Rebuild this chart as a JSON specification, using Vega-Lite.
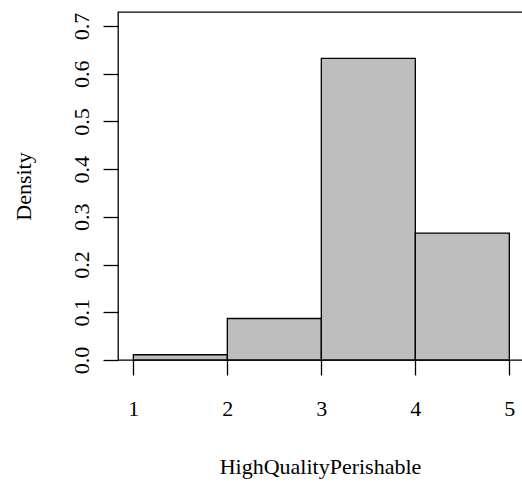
{
  "$schema": "https://vega.github.io/schema/vega-lite/v6.json",
  "autosize": {"type": "none"},
  "padding": {"left": 118, "top": 12, "right": -2, "bottom": 124},
  "width": 406,
  "height": 348,
  "background": "white",
  "config": {"view": {"stroke": "black", "strokeWidth": 1.3}, "font": "Liberation Serif"},
  "data": {"values": [
    {"bin_start": 1, "bin_end": 2, "density": 0.011},
    {"bin_start": 2, "bin_end": 3, "density": 0.087},
    {"bin_start": 3, "bin_end": 4, "density": 0.632},
    {"bin_start": 4, "bin_end": 5, "density": 0.266}
  ]},
  "mark": {"type": "bar", "fill": "#bebebe", "stroke": "black", "strokeWidth": 1.3},
  "encoding": {
    "x": {
      "field": "bin_start", "type": "quantitative",
      "scale": {"domain": [0.837, 5.156], "nice": false, "zero": false},
      "axis": {
        "values": [1, 2, 3, 4, 5], "format": "d", "domain": false, "grid": false,
        "tickColor": "black", "tickSize": 15, "tickWidth": 1.3,
        "labelFont": "Liberation Serif", "labelFontSize": 22, "labelColor": "black",
        "labelBaseline": "alphabetic", "labelPadding": 40, "labelAngle": 0,
        "title": "HighQualityPerishable", "titleFont": "Liberation Serif", "titleFontSize": 22,
        "titleFontWeight": "normal", "titleColor": "black", "titleBaseline": "alphabetic",
        "titleAlign": "center", "titleX": 202, "titleY": 113
      }
    },
    "x2": {"field": "bin_end"},
    "y": {
      "field": "density", "type": "quantitative",
      "scale": {"domain": [0, 0.7294], "nice": false},
      "axis": {
        "values": [0, 0.1, 0.2, 0.3, 0.4, 0.5, 0.6, 0.7], "format": ".1f", "domain": false, "grid": false,
        "tickColor": "black", "tickSize": 15, "tickWidth": 1.3,
        "labelFont": "Liberation Serif", "labelFontSize": 22, "labelColor": "black",
        "labelAngle": -90, "labelAlign": "center", "labelBaseline": "alphabetic", "labelPadding": 15,
        "title": "Density", "titleFont": "Liberation Serif", "titleFontSize": 22,
        "titleFontWeight": "normal", "titleColor": "black", "titleAngle": -90,
        "titleAlign": "center", "titleBaseline": "alphabetic", "titleX": -88, "titleY": 174
      }
    },
    "y2": {"datum": 0}
  }
}
